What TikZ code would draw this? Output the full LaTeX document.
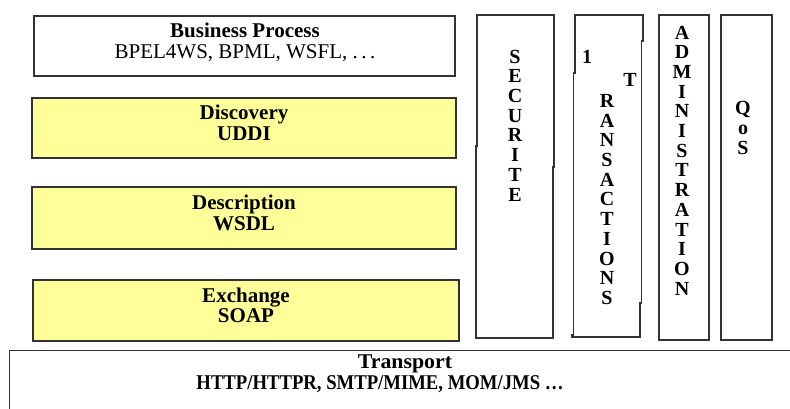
\documentclass[tikz,border=0pt]{standalone}
\usepackage{fontspec}
\setmainfont{Liberation Serif}
\definecolor{layeryellow}{HTML}{FFFF99}
\definecolor{edgegray}{HTML}{333333}
\tikzset{
  layerbox/.style={draw=edgegray, line width=1.2pt, inner sep=0pt},
  yellowbox/.style={layerbox, fill=layeryellow},
  whitebox/.style={layerbox, fill=white},
  colpath/.style={draw=edgegray, line width=1.2pt, line join=miter},
  layertext/.style={align=center, inner sep=0pt, font=\bfseries\fontsize{21}{20.5}\selectfont},
  vertext/.style={align=center, inner sep=0pt, font=\bfseries\fontsize{20}{19.7}\selectfont},
}
\begin{document}
\begin{tikzpicture}[x=1pt, y=-1pt]
\useasboundingbox (0,0) rectangle (790,408);
\clip (0,0) rectangle (790,408);

% horizontal layers of the stack
\node[whitebox, minimum width=421pt, minimum height=60pt] (bp) at (244.5,46) {};
\node[yellowbox, minimum width=424pt, minimum height=60pt] (disc) at (244,128) {};
\node[yellowbox, minimum width=424pt, minimum height=62pt] (desc) at (244,218) {};
\node[yellowbox, minimum width=426pt, minimum height=61pt] (exch) at (246,310.5) {};

\node[layertext] (bptext) at (245,42.5) {Business Process\\ \mdseries BPEL4WS, BPML, WSFL, .\hspace{3.5pt}.\hspace{3.5pt}.};
\node[layertext] (disctext) at (244,123) {Discovery\\UDDI};
\node[layertext] (desctext) at (244,213) {Description\\WSDL};
\node[layertext] (exchtext) at (246,305.5) {Exchange\\SOAP};

% transport layer, running off the right and bottom edges
\node[whitebox, anchor=north west, minimum width=800pt, minimum height=80pt] (trans) at (9,350) {};
\node[layertext] (transtop) at (405,364) {\scalebox{1.04}[1]{Transport}};
\node[layertext] (transbot) at (380,384) {\scalebox{0.89}[1]{HTTP/HTTPR, SMTP/MIME, MOM/JMS …}};

% vertical columns
\draw[colpath] (477,15) -- (554,15) -- (554,167) -- (553,167) -- (553,338)
  -- (476,338) -- (476,146) -- (477,146) -- cycle;
\draw[colpath] (575,15) -- (643,15) -- (643,41) -- (641.5,41) -- (641.5,303)
  -- (640,303) -- (640,337) -- (572,337) -- (572,335) -- (573.5,335) -- (573.5,73) -- (575,73) -- cycle;
\node[layerbox, minimum width=50pt, minimum height=325pt] (admin) at (684,177.5) {};
\node[layerbox, minimum width=51pt, minimum height=325pt] (qos) at (746.5,177.5) {};

\node[vertext] (sectext) at (515,125.5) {S\\E\\C\\U\\R\\I\\T\\E};
\node[vertext] (trone) at (587,57) {1};
\node[vertext] (trt) at (630,80) {T};
\node[vertext] (trtext) at (607,199.5) {R\\A\\N\\S\\A\\C\\T\\I\\O\\N\\S};
\node[vertext] (admtext) at (682,160.5) {A\\D\\M\\I\\N\\I\\S\\T\\R\\A\\T\\I\\O\\N};
\node[vertext] (qosq) at (743,109) {Q};
\node[vertext] (qoso) at (743,130) {o};
\node[vertext] (qoss) at (743,148) {S};
\end{tikzpicture}
\end{document}
